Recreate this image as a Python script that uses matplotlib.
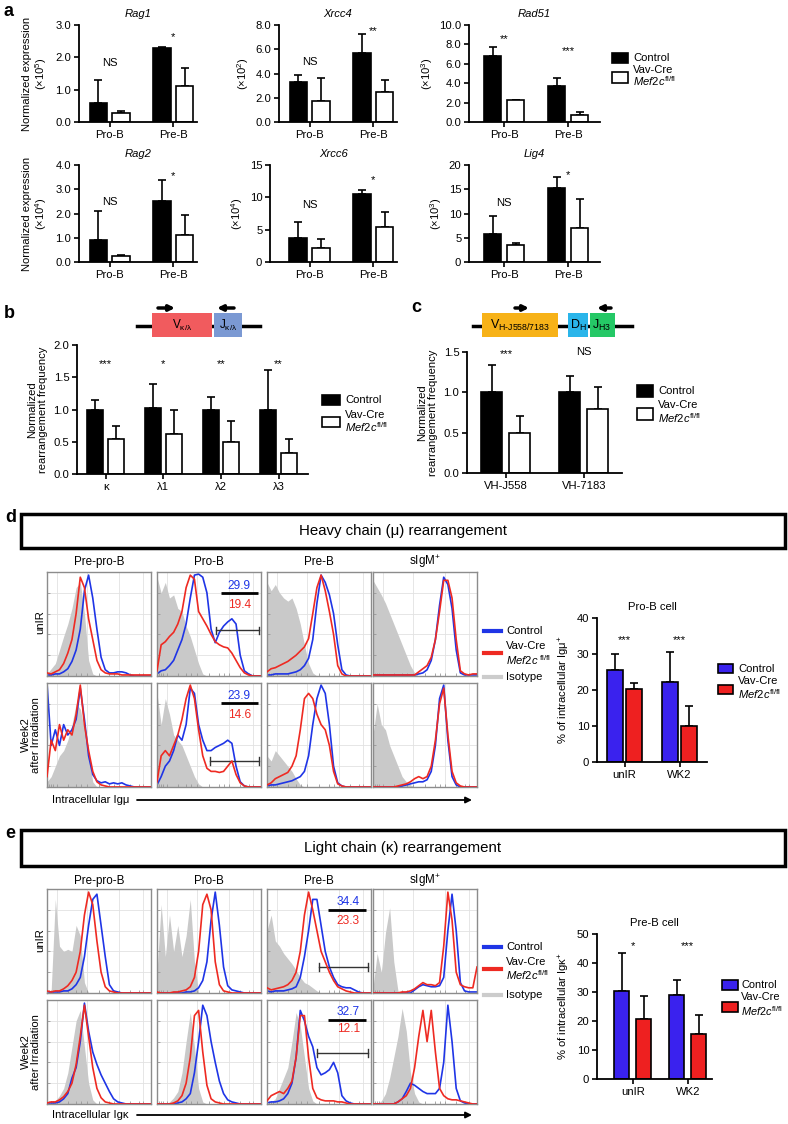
import numpy as np
import matplotlib
matplotlib.use('Agg')
import matplotlib.pyplot as plt
from matplotlib.patches import Rectangle, FancyArrowPatch
from matplotlib.lines import Line2D

plt.rcParams['font.family'] = ['Liberation Sans', 'DejaVu Sans']
plt.rcParams['mathtext.fontset'] = 'custom'
plt.rcParams['mathtext.rm'] = 'Liberation Sans'
plt.rcParams['mathtext.it'] = 'Liberation Sans:italic'
plt.rcParams['mathtext.bf'] = 'Liberation Sans:bold'

# ---------------- DATA ----------------
A_GROUPS = ['Pro-B', 'Pre-B']
RAG1_CTRL, RAG1_CTRL_ERR, RAG1_KO, RAG1_KO_ERR = [0.6, 2.28], [0.7, 0.03], [0.27, 1.12], [0.06, 0.55]
XRCC4_CTRL, XRCC4_CTRL_ERR, XRCC4_KO, XRCC4_KO_ERR = [3.3, 5.65], [0.6, 1.6], [1.72, 2.5], [1.93, 0.95]
RAD51_CTRL, RAD51_CTRL_ERR, RAD51_KO, RAD51_KO_ERR = [6.8, 3.75], [0.95, 0.75], [2.3, 0.7], [0.0, 0.3]
RAG2_CTRL, RAG2_CTRL_ERR, RAG2_KO, RAG2_KO_ERR = [0.9, 2.5], [1.2, 0.87], [0.25, 1.1], [0.05, 0.83]
XRCC6_CTRL, XRCC6_CTRL_ERR, XRCC6_KO, XRCC6_KO_ERR = [3.7, 10.5], [2.5, 0.7], [2.1, 5.4], [1.4, 2.4]
LIG4_CTRL, LIG4_CTRL_ERR, LIG4_KO, LIG4_KO_ERR = [5.8, 15.3], [3.6, 2.2], [3.5, 7.0], [0.4, 6.0]
RAG1_SIG, XRCC4_SIG, RAD51_SIG = ['NS', '*'], ['NS', '**'], ['**', '***']
RAG2_SIG, XRCC6_SIG, LIG4_SIG = ['NS', '*'], ['NS', '*'], ['NS', '*']

B_CATS = ['κ', 'λ1', 'λ2', 'λ3']
B_CTRL, B_CTRL_ERR = [1.0, 1.02, 1.0, 1.0], [0.15, 0.37, 0.19, 0.61]
B_KO, B_KO_ERR = [0.54, 0.62, 0.49, 0.33], [0.21, 0.37, 0.33, 0.22]
B_SIG = ['***', '*', '**', '**']

C_CATS = ['VH-J558', 'VH-7183']
C_CTRL, C_CTRL_ERR = [1.0, 1.0], [0.34, 0.2]
C_KO, C_KO_ERR = [0.49, 0.79], [0.22, 0.28]
C_SIG = ['***', 'NS']

D_BAR_CATS = ['unIR', 'WK2']
D_BAR_CTRL, D_BAR_CTRL_ERR = [25.5, 22.3], [4.5, 8.2]
D_BAR_KO, D_BAR_KO_ERR = [20.2, 10.0], [1.7, 5.5]
D_BAR_SIG = ['***', '***']

E_BAR_CATS = ['unIR', 'WK2']
E_BAR_CTRL, E_BAR_CTRL_ERR = [30.5, 29.0], [13.0, 5.3]
E_BAR_KO, E_BAR_KO_ERR = [20.7, 15.5], [7.8, 6.5]
E_BAR_SIG = ['*', '***']

HIST_COLS = ['Pre-pro-B', 'Pro-B', 'Pre-B', 'sIgM$^{+}$']
HIST_X = np.linspace(0, 1, 26)

D_UNIR_ISO = [
    [0.02,0.07,0.12,0.25,0.38,0.5,0.65,0.85,0.9,0.6,0.15,0.02,0,0,0,0,0,0,0,0,0,0,0,0,0,0],
    [0.95,0.8,0.9,0.75,0.78,0.65,0.62,0.48,0.38,0.25,0.12,0.02,0,0,0,0,0,0,0,0,0,0,0,0,0,0],
    [0.9,0.82,0.88,0.8,0.75,0.72,0.75,0.65,0.5,0.3,0.12,0.03,0,0,0,0,0,0,0,0,0,0,0,0,0,0],
    [0.92,0.85,0.78,0.7,0.6,0.5,0.4,0.3,0.2,0.1,0.03,0,0,0,0,0,0,0,0,0,0,0,0,0,0,0]]
D_UNIR_CTRL = [
    [0.01,0.01,0.02,0.02,0.04,0.07,0.14,0.25,0.45,0.82,0.97,0.75,0.45,0.18,0.06,0.03,0.03,0.04,0.04,0.03,0.01,0,0,0,0,0],
    [0.02,0.05,0.06,0.1,0.15,0.25,0.35,0.5,0.75,0.97,0.98,0.95,0.8,0.45,0.32,0.42,0.48,0.52,0.55,0.5,0.2,0.05,0.02,0,0,0],
    [0.01,0.01,0.02,0.02,0.02,0.02,0.03,0.04,0.06,0.1,0.17,0.35,0.7,0.97,0.9,0.78,0.6,0.3,0.06,0.01,0,0,0,0,0,0],
    [0.01,0.01,0.01,0.01,0.01,0.01,0.01,0.01,0.01,0.01,0.01,0.02,0.03,0.06,0.15,0.35,0.68,0.95,0.88,0.65,0.25,0.03,0.01,0.01,0.01,0.01]]
D_UNIR_KO = [
    [0.03,0.02,0.04,0.06,0.12,0.22,0.35,0.6,0.95,0.85,0.55,0.35,0.15,0.06,0.03,0.02,0.02,0.02,0.01,0.01,0.01,0.01,0.01,0.01,0.01,0.01],
    [0.05,0.3,0.33,0.38,0.42,0.5,0.62,0.85,0.97,0.93,0.62,0.55,0.48,0.4,0.33,0.3,0.28,0.27,0.22,0.15,0.08,0.03,0.01,0,0,0],
    [0.04,0.07,0.08,0.1,0.12,0.14,0.17,0.2,0.24,0.28,0.36,0.6,0.85,0.97,0.82,0.62,0.4,0.1,0.02,0,0,0,0,0,0,0],
    [0.01,0.01,0.01,0.01,0.01,0.01,0.01,0.01,0.01,0.01,0.01,0.04,0.07,0.1,0.18,0.35,0.62,0.92,0.92,0.75,0.35,0.05,0.02,0.01,0.02,0.02]]
D_WK2_ISO = [
    [0.05,0.1,0.2,0.3,0.35,0.45,0.6,0.8,0.75,0.55,0.3,0.05,0,0,0,0,0,0,0,0,0,0,0,0,0,0],
    [0.9,0.6,0.85,0.7,0.5,0.45,0.4,0.3,0.2,0.1,0.03,0,0,0,0,0,0,0,0,0,0,0,0,0,0,0],
    [0.3,0.25,0.35,0.3,0.25,0.2,0.15,0.08,0.02,0,0,0,0,0,0,0,0,0,0,0,0,0,0,0,0,0],
    [0.5,0.8,0.6,0.55,0.4,0.3,0.2,0.1,0.05,0.02,0,0,0,0,0,0,0,0,0,0,0,0,0,0,0,0]]
D_WK2_CTRL = [
    [1.0,0.4,0.55,0.4,0.6,0.5,0.55,0.65,0.95,0.65,0.3,0.12,0.06,0.04,0.05,0.03,0.04,0.03,0.04,0.02,0.01,0,0,0,0,0],
    [0.02,0.1,0.2,0.25,0.35,0.5,0.45,0.6,0.95,0.9,0.6,0.45,0.35,0.35,0.38,0.4,0.42,0.45,0.42,0.2,0.05,0.01,0,0,0,0],
    [0.01,0.02,0.02,0.03,0.04,0.05,0.06,0.08,0.1,0.15,0.3,0.6,0.85,0.98,0.9,0.6,0.2,0.04,0.01,0,0,0,0,0,0,0],
    [0,0,0,0,0,0,0,0.01,0.02,0.03,0.04,0.05,0.05,0.07,0.15,0.4,0.85,0.98,0.45,0.1,0.02,0,0,0,0,0]]
D_WK2_KO = [
    [0.1,0.45,0.35,0.6,0.45,0.55,0.5,0.7,0.98,0.6,0.35,0.15,0.05,0.02,0.01,0,0,0,0,0,0,0,0,0,0,0],
    [0.05,0.3,0.35,0.3,0.4,0.5,0.65,0.85,0.98,0.85,0.55,0.3,0.18,0.15,0.15,0.14,0.15,0.2,0.25,0.12,0.04,0.01,0,0,0,0],
    [0.02,0.04,0.08,0.1,0.12,0.14,0.2,0.3,0.55,0.85,0.9,0.85,0.7,0.6,0.55,0.4,0.15,0.03,0.01,0,0,0,0,0,0,0],
    [0,0,0,0,0,0,0.01,0.02,0.03,0.05,0.08,0.1,0.08,0.1,0.2,0.45,0.8,0.95,0.5,0.15,0.04,0.01,0,0,0,0]]

E_UNIR_ISO = [
    [0,0.02,0.9,0.45,0.4,0.42,0.4,0.65,0.55,0.1,0,0,0,0,0,0,0,0,0,0,0,0,0,0,0,0],
    [0.2,0.85,0.35,0.75,0.4,0.65,0.35,0.55,0.9,0.3,0,0,0,0,0,0,0,0,0,0,0,0,0,0,0,0],
    [0.6,0.75,0.5,0.45,0.38,0.33,0.28,0.22,0.15,0.1,0.08,0.05,0.02,0,0,0,0,0,0,0,0,0,0,0,0,0],
    [0.05,0.38,0.2,0.58,0.82,0.3,0.02,0,0,0,0,0,0,0,0,0,0,0,0,0,0,0,0,0,0,0]]
E_UNIR_CTRL = [
    [0.01,0.01,0.01,0.01,0.02,0.02,0.04,0.08,0.15,0.35,0.65,0.9,0.95,0.65,0.35,0.08,0.02,0.01,0,0,0,0,0,0,0,0],
    [0,0,0,0,0,0,0,0.01,0.01,0.02,0.05,0.12,0.3,0.7,0.97,0.65,0.25,0.07,0.03,0.02,0.01,0,0,0,0,0],
    [0.02,0.01,0.02,0.02,0.02,0.03,0.04,0.06,0.15,0.35,0.6,0.9,0.9,0.65,0.4,0.25,0.15,0.08,0.06,0.05,0.05,0.03,0.01,0,0,0],
    [0,0,0,0,0,0,0,0,0,0,0.03,0.06,0.08,0.07,0.06,0.06,0.07,0.15,0.6,0.95,0.6,0.1,0.02,0.01,0.01,0.01]]
E_UNIR_KO = [
    [0.02,0.01,0.02,0.02,0.04,0.07,0.12,0.2,0.4,0.75,0.97,0.85,0.5,0.2,0.06,0.02,0.01,0,0,0,0,0,0,0,0,0],
    [0.01,0,0,0,0.01,0.01,0.02,0.03,0.06,0.15,0.4,0.85,0.95,0.8,0.3,0.08,0.02,0.01,0,0,0,0,0,0,0,0],
    [0.05,0.03,0.04,0.05,0.06,0.08,0.12,0.2,0.4,0.75,0.97,0.8,0.6,0.4,0.3,0.2,0.12,0.06,0.04,0.02,0.01,0,0,0,0,0],
    [0,0,0,0,0,0,0,0.01,0.01,0.02,0.04,0.07,0.1,0.08,0.08,0.07,0.1,0.45,0.97,0.7,0.2,0.08,0.06,0.05,0.05,0.25]]
E_WK2_ISO = [
    [0,0.01,0.03,0.08,0.15,0.3,0.55,0.8,0.9,0.55,0.2,0.04,0,0,0,0,0,0,0,0,0,0,0,0,0,0],
    [0,0,0,0.02,0.06,0.12,0.3,0.6,0.88,0.55,0.15,0.02,0,0,0,0,0,0,0,0,0,0,0,0,0,0],
    [0,0.02,0.05,0.15,0.25,0.35,0.6,0.88,0.75,0.45,0.15,0.03,0,0,0,0,0,0,0,0,0,0,0,0,0,0],
    [0,0,0.03,0.1,0.25,0.45,0.65,0.92,0.7,0.3,0.1,0.02,0,0,0,0,0,0,0,0,0,0,0,0,0,0]]
E_WK2_CTRL = [
    [0.01,0.01,0.01,0.02,0.05,0.1,0.25,0.35,0.6,0.97,0.7,0.5,0.38,0.28,0.2,0.12,0.05,0.02,0.01,0,0,0,0,0,0,0],
    [0,0,0,0,0,0.01,0.02,0.05,0.1,0.3,0.6,0.95,0.85,0.6,0.4,0.22,0.1,0.04,0.02,0.01,0,0,0,0,0,0],
    [0.01,0.02,0.02,0.03,0.05,0.1,0.2,0.45,0.9,0.8,0.65,0.55,0.35,0.28,0.3,0.33,0.4,0.3,0.08,0.03,0.01,0,0,0,0,0],
    [0,0,0,0,0,0,0.02,0.05,0.12,0.2,0.18,0.15,0.12,0.1,0.1,0.1,0.15,0.4,0.95,0.6,0.15,0.03,0.01,0,0,0]]
E_WK2_KO = [
    [0.01,0.02,0.02,0.04,0.07,0.12,0.2,0.38,0.65,0.95,0.65,0.35,0.15,0.06,0.02,0.01,0,0,0,0,0,0,0,0,0,0],
    [0,0,0,0,0.01,0.03,0.08,0.2,0.45,0.85,0.9,0.5,0.18,0.05,0.02,0.01,0,0,0,0,0,0,0,0,0,0],
    [0.03,0.08,0.1,0.12,0.1,0.15,0.22,0.45,0.85,0.85,0.45,0.15,0.06,0.04,0.03,0.03,0.03,0.02,0.02,0.01,0,0,0,0,0,0],
    [0,0,0,0,0,0,0.02,0.05,0.08,0.15,0.35,0.65,0.9,0.6,0.9,0.5,0.15,0.08,0.05,0.04,0.04,0.03,0.02,0.01,0,0]]

D_UNIR_PCT = [29.9, 19.4]
D_WK2_PCT = [23.9, 14.6]
E_UNIR_PCT = [34.4, 23.3]
E_WK2_PCT = [32.7, 12.1]

# ---------------- STYLE / LAYOUT ----------------
W, H = 788, 1124
fig = plt.figure(figsize=(W / 100, H / 100), dpi=100)

BLUE_LINE = '#1f35e6'
RED_LINE = '#ee2a22'
GREY_FILL = '#c9c9c9'
BAR_BLUE = '#3a22ee'
BAR_RED = '#ee2020'
FS = 8.1


def R(l, t, r, b):
    return [l / W, 1 - b / H, (r - l) / W, (b - t) / H]


def FX(x):
    return x / W


def FY(y):
    return 1 - y / H


def ftext(x, y, s, **kw):
    kw.setdefault('fontsize', FS)
    kw.setdefault('va', 'center')
    kw.setdefault('zorder', 5)
    fig.text(FX(x), FY(y), s, **kw)


def frect(l, t, r, b, **kw):
    kw.setdefault('zorder', 2)
    fig.add_artist(Rectangle((FX(l), FY(b)), (r - l) / W, (b - t) / H,
                             transform=fig.transFigure, **kw))


def fline(x0, x1, y0, y1, **kw):
    kw.setdefault('zorder', 2)
    fig.add_artist(Line2D([FX(x0), FX(x1)], [FY(y0), FY(y1)],
                          transform=fig.transFigure, **kw))


def farrow(x0, x1, y, lw=2.5, ms=8):
    fig.add_artist(FancyArrowPatch((FX(x0), FY(y)), (FX(x1), FY(y)),
                                   transform=fig.transFigure, arrowstyle='-|>',
                                   mutation_scale=ms, lw=lw, color='black',
                                   shrinkA=0, shrinkB=0, zorder=3))


def bar_panel(rect, xlim, ylim, yticks, yticklabels, cats, ctrl, ctrl_err, ko, ko_err,
              fc_ctrl, fc_ko, width, off, sig, sig_y, title=None, italic=False,
              ylabel=None, lpad=3):
    ax = fig.add_axes(rect)
    x = np.arange(len(cats))
    z = np.zeros(len(cats))
    ax.errorbar(x - off, ctrl, yerr=[z, ctrl_err], fmt='none', ecolor='black',
                elinewidth=1.2, capsize=3, capthick=1.2, zorder=1)
    ax.errorbar(x + off, ko, yerr=[z, ko_err], fmt='none', ecolor='black',
                elinewidth=1.2, capsize=3, capthick=1.2, zorder=1)
    ax.bar(x - off, ctrl, width, color=fc_ctrl, edgecolor='black', lw=1.2, zorder=2)
    ax.bar(x + off, ko, width, color=fc_ko, edgecolor='black', lw=1.2, zorder=2)
    for s in ['top', 'right']:
        ax.spines[s].set_visible(False)
    for s in ['left', 'bottom']:
        ax.spines[s].set_linewidth(1.3)
    ax.set_xlim(xlim)
    ax.set_ylim(ylim)
    ax.set_yticks(yticks)
    ax.set_yticklabels(yticklabels)
    ax.set_xticks(x)
    ax.set_xticklabels(cats)
    ax.tick_params(axis='both', width=1.2, length=3.5, labelsize=FS, pad=2)
    for xi, s, sy in zip(x, sig, sig_y):
        ax.text(xi, sy, s, ha='center', va='center', fontsize=FS, clip_on=False)
    if title:
        ax.set_title(title, fontsize=FS, style='italic' if italic else 'normal', pad=6)
    if ylabel:
        ax.set_ylabel(ylabel, fontsize=FS, labelpad=lpad, linespacing=1.1)
    return ax


def fmt1(v):
    return [f"{t:.1f}" for t in v]


def fmt0(v):
    return [f"{t:g}" for t in v]


# ---------------- PANEL a ----------------
ftext(4, 12, 'a', fontsize=13, fontweight='bold')
AW, AO = 0.27, 0.18
bar_panel(R(79, 25, 197, 122), (-0.48, 1.37), (0, 3), [0, 1, 2, 3], fmt1([0, 1, 2, 3]),
          A_GROUPS, RAG1_CTRL, RAG1_CTRL_ERR, RAG1_KO, RAG1_KO_ERR, 'black', 'white',
          AW, AO, RAG1_SIG, [1.82, 2.62], 'Rag1', True,
          'Normalized expression\n(×10$^{5}$)', 5)
bar_panel(R(279, 25, 397, 122), (-0.48, 1.37), (0, 8), [0, 2, 4, 6, 8], fmt1([0, 2, 4, 6, 8]),
          A_GROUPS, XRCC4_CTRL, XRCC4_CTRL_ERR, XRCC4_KO, XRCC4_KO_ERR, 'black', 'white',
          AW, AO, XRCC4_SIG, [4.95, 7.5], 'Xrcc4', True, '(×10$^{2}$)', 3)
bar_panel(R(469, 25, 600, 122), (-0.55, 1.5), (0, 10), [0, 2, 4, 6, 8, 10],
          fmt1([0, 2, 4, 6, 8, 10]),
          A_GROUPS, RAD51_CTRL, RAD51_CTRL_ERR, RAD51_KO, RAD51_KO_ERR, 'black', 'white',
          AW, AO, RAD51_SIG, [8.5, 7.3], 'Rad51', True, '(×10$^{3}$)', 3)
bar_panel(R(79, 165, 197, 262), (-0.48, 1.37), (0, 4), [0, 1, 2, 3, 4], fmt1([0, 1, 2, 3, 4]),
          A_GROUPS, RAG2_CTRL, RAG2_CTRL_ERR, RAG2_KO, RAG2_KO_ERR, 'black', 'white',
          AW, AO, RAG2_SIG, [2.47, 3.55], 'Rag2', True,
          'Normalized expression\n(×10$^{4}$)', 5)
bar_panel(R(270, 165, 397, 262), (-0.62, 1.37), (0, 15), [0, 5, 10, 15], fmt0([0, 5, 10, 15]),
          A_GROUPS, XRCC6_CTRL, XRCC6_CTRL_ERR, XRCC6_KO, XRCC6_KO_ERR, 'black', 'white',
          AW, AO, XRCC6_SIG, [8.8, 12.6], 'Xrcc6', True, '(×10$^{4}$)', 3)
bar_panel(R(469, 165, 600, 262), (-0.55, 1.5), (0, 20), [0, 5, 10, 15, 20],
          fmt0([0, 5, 10, 15, 20]),
          A_GROUPS, LIG4_CTRL, LIG4_CTRL_ERR, LIG4_KO, LIG4_KO_ERR, 'black', 'white',
          AW, AO, LIG4_SIG, [12.2, 18.0], 'Lig4', True, '(×10$^{3}$)', 3)


def box_legend(x, y_ctrl, y_ko, y_vav, y_mef, c_ctrl, c_ko, w=16, h=10, tx=None, fs=FS):
    tx = tx if tx is not None else x + w + 5
    frect(x, y_ctrl - h / 2, x + w, y_ctrl + h / 2, facecolor=c_ctrl, edgecolor='black', lw=1.2)
    frect(x, y_ko - h / 2, x + w, y_ko + h / 2, facecolor=c_ko, edgecolor='black', lw=1.2)
    ftext(tx, y_ctrl, 'Control', fontsize=fs)
    ftext(tx, y_vav, 'Vav-Cre', fontsize=fs)
    ftext(tx, y_mef, r'$\mathit{Mef2c}^{\mathregular{fl/fl}}$', fontsize=fs)


box_legend(612, 58, 77.5, 70, 81, 'black', 'white')

# ---------------- PANEL b ----------------
ftext(4, 313, 'b', fontsize=13, fontweight='bold')
fline(137, 260, 326, 326, color='black', lw=2.5, zorder=1)
frect(152, 313, 212, 337, facecolor='#f15b5e', edgecolor='none')
frect(214, 313, 242, 337, facecolor='#7b99d3', edgecolor='none')
ftext(182, 325, r'V$_{\mathregular{κ/λ}}$', fontsize=8.5, ha='center')
ftext(228, 325, r'J$_{\mathregular{κ/λ}}$', fontsize=8.5, ha='center')
farrow(158, 175, 308)
farrow(234, 217, 308)
bar_panel(R(77, 345, 308, 474), (-0.5, 3.51), (0, 2), [0, 0.5, 1, 1.5, 2],
          fmt1([0, 0.5, 1, 1.5, 2]), B_CATS, B_CTRL, B_CTRL_ERR, B_KO, B_KO_ERR,
          'black', 'white', 0.28, 0.18, B_SIG, [1.7] * 4, None, False,
          'Normalized\nrearrangement frequency', 4)
box_legend(322, 400, 422.5, 415, 427, 'black', 'white', w=18)

# ---------------- PANEL c ----------------
ftext(416, 307, 'c', fontsize=13, fontweight='bold', ha='center')
fline(473, 632, 326, 326, color='black', lw=2.5, zorder=1)
frect(482, 313, 558, 337, facecolor='#f7b218', edgecolor='none')
frect(568, 313, 588, 337, facecolor='#2ab5ea', edgecolor='none')
frect(590, 313, 615, 337, facecolor='#25c866', edgecolor='none')
ftext(520, 325, r'V$_{\mathregular{H‐J558/7183}}$', fontsize=9, ha='center')
ftext(578, 325, r'D$_{\mathregular{H}}$', fontsize=9, ha='center')
ftext(602, 325, r'J$_{\mathregular{H3}}$', fontsize=9, ha='center')
farrow(515, 529, 308)
farrow(611, 597, 308)
bar_panel(R(467, 352, 622, 473), (-0.5, 1.49), (0, 1.5), [0, 0.5, 1, 1.5],
          fmt1([0, 0.5, 1, 1.5]), C_CATS, C_CTRL, C_CTRL_ERR, C_KO, C_KO_ERR,
          'black', 'white', 0.27, 0.18, C_SIG, [1.47, 1.5], None, False,
          'Normalized\nrearrangement frequency', 4)
box_legend(637, 391, 414, 405, 418, 'black', 'white', w=16, h=12)

# ---------------- HISTOGRAMS ----------------
COL_L = [47, 157, 267, 373]
COL_W = 104
GRID_X = [0.1, 0.38, 0.69, 0.92]
GRID_Y = [0.2, 0.4, 0.6, 0.8]


def hist_axes(l, t, iso, ctrl, ko):
    ax = fig.add_axes(R(l, t, l + COL_W, t + 104))
    for gx in GRID_X:
        ax.axvline(gx, color='#e2e2e2', lw=0.6, zorder=0)
    for gy in GRID_Y:
        ax.axhline(gy, color='#e2e2e2', lw=0.6, zorder=0)
    ax.fill_between(HIST_X, iso, 0, color=GREY_FILL, lw=0, zorder=1)
    ax.plot(HIST_X, ctrl, color=BLUE_LINE, lw=1.2, zorder=2)
    ax.plot(HIST_X, ko, color=RED_LINE, lw=1.2, zorder=3)
    ax.set_xlim(0, 1)
    ax.set_ylim(0, 1.0)
    ax.set_xticks([0.02, 0.04, 0.06, 0.1, 0.2, 0.28, 0.33, 0.38, 0.5, 0.6, 0.64, 0.69, 0.8, 0.88, 0.92])
    ax.set_yticks([0.2, 0.4, 0.6, 0.8])
    ax.tick_params(direction='in', length=2, width=0.6, color='#999999',
                   labelbottom=False, labelleft=False)
    for s in ax.spines.values():
        s.set_color('#8c8c8c')
        s.set_linewidth(1.0)
    return ax


def gate(ax, pct, num_x, y_top, y_line, y_bot, line_x, gate_x, gate_y):
    ax.text(num_x, y_top, f"{pct[0]:.1f}", color=BLUE_LINE, ha='center', va='center', fontsize=8.6)
    ax.plot(line_x, [y_line, y_line], color='black', lw=2, solid_capstyle='butt')
    ax.text(num_x, y_bot, f"{pct[1]:.1f}", color=RED_LINE, ha='center', va='center', fontsize=8.6)
    ax.plot(gate_x, [gate_y, gate_y], color='#333333', lw=1)
    for gx in gate_x:
        ax.plot([gx, gx], [gate_y - 0.035, gate_y + 0.035], color='#333333', lw=1)


def hist_block(top1, top2, iso1, ctrl1, ko1, iso2, ctrl2, ko2, title_y):
    axes = []
    for i in range(4):
        ftext(COL_L[i] + COL_W / 2, title_y, HIST_COLS[i], ha='center', fontsize=8.4)
        a1 = hist_axes(COL_L[i], top1, iso1[i], ctrl1[i], ko1[i])
        a2 = hist_axes(COL_L[i], top2, iso2[i], ctrl2[i], ko2[i])
        axes.append((a1, a2))
    return axes


def hist_legend(y_ctrl, y_ko, y_vav, y_mef, y_iso, mef_text):
    fline(484, 501, y_ctrl, y_ctrl, color=BLUE_LINE, lw=3)
    fline(484, 501, y_ko, y_ko, color=RED_LINE, lw=3)
    fline(484, 501, y_iso, y_iso, color='#cccccc', lw=3)
    ftext(506, y_ctrl, 'Control')
    ftext(506, y_vav, 'Vav-Cre')
    ftext(506, y_mef, mef_text)
    ftext(506, y_iso, 'Isotype')


# ---------------- PANEL d ----------------
ftext(5, 517, 'd', fontsize=13, fontweight='bold')
frect(21, 514, 785, 548, facecolor='none', edgecolor='black', lw=2.5)
ftext(403, 531, 'Heavy chain (μ) rearrangement', fontsize=10.8, ha='center')
dax = hist_block(572, 683, D_UNIR_ISO, D_UNIR_CTRL, D_UNIR_KO,
                 D_WK2_ISO, D_WK2_CTRL, D_WK2_KO, 562)
gate(dax[1][0], D_UNIR_PCT, 0.79, 0.87, 0.8, 0.68, [0.62, 0.97], [0.57, 0.98], 0.44)
gate(dax[1][1], D_WK2_PCT, 0.79, 0.875, 0.81, 0.69, [0.62, 0.97], [0.51, 0.98], 0.25)
ftext(40, 622, 'unIR', rotation=90, ha='center')
ftext(31, 735, 'Week2\nafter Irradiation', rotation=90, ha='center', linespacing=1.1)
ftext(52, 800, 'Intracellular Igμ', ha='left')
farrow(137, 472, 800, lw=1.3, ms=9)
hist_legend(631, 653, 646, 660, 677, r'$\mathit{Mef2c}^{\ \mathregular{fl/fl}}$')

bar_panel(R(597, 618, 707, 762), (-0.5, 1.5), (0, 40), [0, 10, 20, 30, 40],
          fmt0([0, 10, 20, 30, 40]), D_BAR_CATS, D_BAR_CTRL, D_BAR_CTRL_ERR,
          D_BAR_KO, D_BAR_KO_ERR, BAR_BLUE, BAR_RED, 0.29, 0.17, D_BAR_SIG, [34, 34],
          'Pro-B cell', False, '% of intracellular Igμ$^{+}$', 3)
box_legend(718, 668.5, 689, 681, 694, BAR_BLUE, BAR_RED, w=15, h=9)

# ---------------- PANEL e ----------------
ftext(5, 834, 'e', fontsize=13, fontweight='bold')
frect(21, 830, 785, 866, facecolor='none', edgecolor='black', lw=2.5)
ftext(403, 848, 'Light chain (κ) rearrangement', fontsize=10.8, ha='center')
eax = hist_block(889, 1000, E_UNIR_ISO, E_UNIR_CTRL, E_UNIR_KO,
                 E_WK2_ISO, E_WK2_CTRL, E_WK2_KO, 881)
gate(eax[2][0], E_UNIR_PCT, 0.78, 0.875, 0.8, 0.69, [0.59, 0.95], [0.5, 0.97], 0.25)
gate(eax[2][1], E_WK2_PCT, 0.78, 0.88, 0.81, 0.72, [0.59, 0.95], [0.48, 0.97], 0.49)
ftext(40, 940, 'unIR', rotation=90, ha='center')
ftext(31, 1052, 'Week2\nafter Irradiation', rotation=90, ha='center', linespacing=1.1)
ftext(52, 1115, 'Intracellular Igκ', ha='left')
farrow(137, 472, 1115, lw=1.3, ms=9)
hist_legend(947, 969, 962, 975, 995, r'$\mathit{Mef2c}^{\mathregular{fl/fl}}$')

bar_panel(R(597, 934, 712, 1079), (-0.65, 1.44), (0, 50), [0, 10, 20, 30, 40, 50],
          fmt0([0, 10, 20, 30, 40, 50]), E_BAR_CATS, E_BAR_CTRL, E_BAR_CTRL_ERR,
          E_BAR_KO, E_BAR_KO_ERR, BAR_BLUE, BAR_RED, 0.27, 0.2, E_BAR_SIG, [46, 46],
          'Pre-B cell', False, '% of intracellular Igκ$^{+}$', 3)
box_legend(722, 985, 1007, 997, 1011, BAR_BLUE, BAR_RED, w=16, h=10, tx=741, fs=7.9)

fig.savefig('out.png', dpi=100)
